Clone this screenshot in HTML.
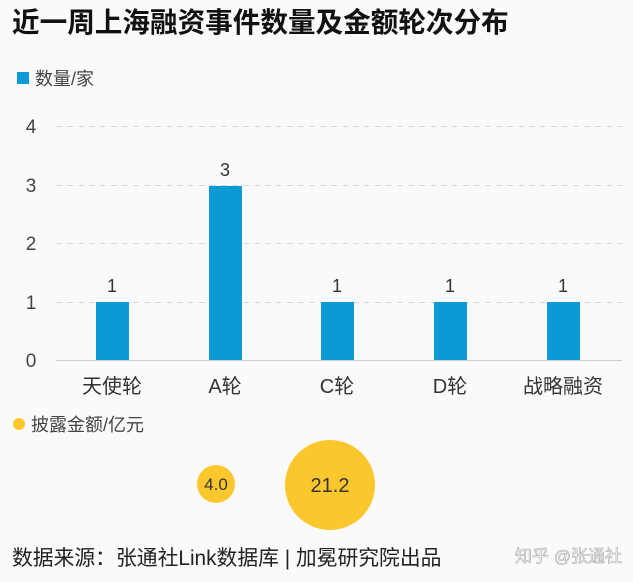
<!DOCTYPE html>
<html><head><meta charset="utf-8"><style>
html,body{margin:0;padding:0;background:#fafafa;}
svg{display:block;font-family:"Liberation Sans","Noto Sans CJK SC",sans-serif;}
</style></head><body>
<svg width="633" height="582" viewBox="0 0 633 582" xmlns="http://www.w3.org/2000/svg">
<rect width="633" height="582" fill="#fafafa"/>
<text x="12" y="32" font-size="27.6" font-weight="bold" fill="#111">近一周上海融资事件数量及金额轮次分布</text>
<rect x="17" y="72" width="12" height="12" fill="#0a9bd6"/>
<text x="35" y="85" font-size="18" fill="#444">数量/家</text>
<g stroke="#d8d8d8" stroke-width="1" stroke-dasharray="6,5">
<line x1="56" y1="126.5" x2="622" y2="126.5"/>
<line x1="56" y1="185.5" x2="622" y2="185.5"/>
<line x1="56" y1="243.5" x2="622" y2="243.5"/>
<line x1="56" y1="302.5" x2="622" y2="302.5"/>
</g>
<line x1="56" y1="360.5" x2="622" y2="360.5" stroke="#ccc"/>
<g font-size="19" fill="#444" text-anchor="middle">
<text x="31" y="133">4</text><text x="31" y="192">3</text><text x="31" y="250">2</text><text x="31" y="309">1</text><text x="31" y="367">0</text>
</g>
<g fill="#0a9bd6">
<rect x="96" y="302" width="33" height="58"/>
<rect x="209" y="186" width="33" height="174"/>
<rect x="321" y="302" width="33" height="58"/>
<rect x="434" y="302" width="33" height="58"/>
<rect x="547" y="302" width="33" height="58"/>
</g>
<g font-size="18" fill="#333" text-anchor="middle">
<text x="112" y="292">1</text><text x="225" y="176">3</text><text x="337" y="292">1</text><text x="450" y="292">1</text><text x="563" y="292">1</text>
</g>
<g font-size="20" fill="#333" text-anchor="middle">
<text x="112" y="393">天使轮</text><text x="225" y="393">A轮</text><text x="337" y="393">C轮</text><text x="450" y="393">D轮</text><text x="563" y="393">战略融资</text>
</g>
<circle cx="19" cy="424" r="6" fill="#fcc72c"/>
<text x="31" y="431" font-size="18" fill="#444">披露金额/亿元</text>
<circle cx="216" cy="484" r="19" fill="#fcc72c"/>
<text x="216" y="490" font-size="17" fill="#333" text-anchor="middle">4.0</text>
<circle cx="330" cy="485" r="45" fill="#fcc72c"/>
<text x="330" y="492" font-size="20" fill="#333" text-anchor="middle">21.2</text>
<text x="12" y="565" font-size="20.8" fill="#222">数据来源：张通社Link数据库 | 加冕研究院出品</text>
<text x="622" y="562" font-size="17" fill="#fff" stroke="#aaa" stroke-width="0.6" text-anchor="end">知乎 @张通社</text>
</svg>
</body></html>
